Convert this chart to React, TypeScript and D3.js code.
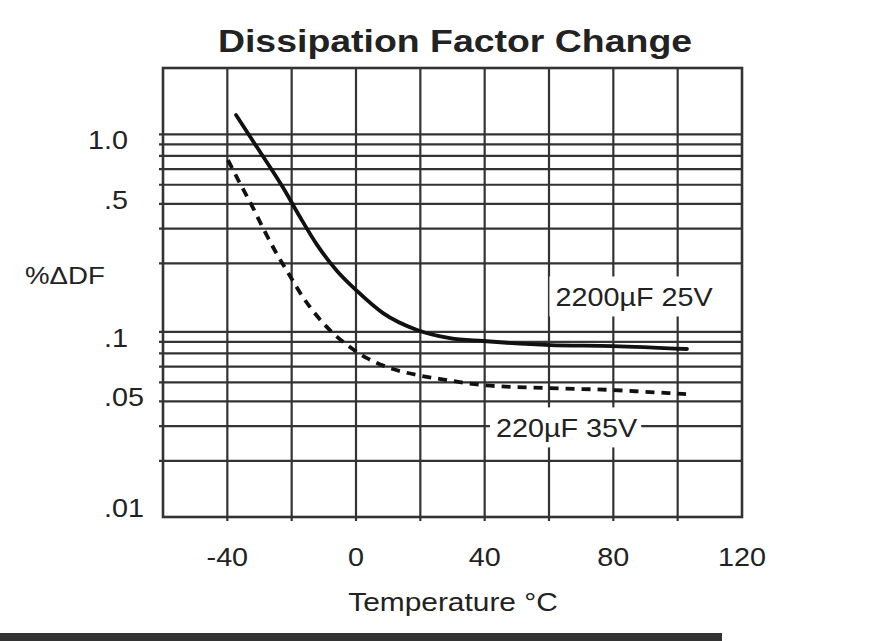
import React, { useLayoutEffect, useRef, useState } from "react";
import * as d3 from "d3";

// ---------- data ----------
const xDomain = [-60, 120];
const yDomain = [0.0104, 1.95];
const xGridValues = [-40, -20, 0, 20, 40, 60, 80, 100];
const xTickValues = [-40, 0, 40, 80, 120];
const yGridValues = [0.9, 0.8, 0.7, 0.6, 0.5, 0.4, 0.3, 0.2, 0.09, 0.08, 0.07, 0.06, 0.05, 0.04, 0.03, 0.02];
const yTickValues = [1.0, 0.5, 0.1, 0.05, 0.01];
const yTickLabels = ["1.0", ".5", ".1", ".05", ".01"];

const tempSolid = [-37.3, -29.8, -22.6, -17.4, -12.1, -5.9, 0.3, 8.4, 19, 29.2, 39.5, 60.3, 79.9, 102.9];
const dfSolid = [1.127, 0.732, 0.481, 0.343, 0.248, 0.183, 0.145, 0.112, 0.092, 0.0837, 0.0809, 0.0772, 0.0763, 0.0737];

const tempDashed = [-39.8, -36.1, -32.3, -28.6, -24.6, -20.5, -16.5, -12.1, -7.5, -1.9, 3.4, 10.6, 19, 28.3, 39.5, 60.3, 79.9, 91.4, 102.6];
const dfDashed = [0.667, 0.51, 0.39, 0.295, 0.223, 0.1725, 0.135, 0.1082, 0.0898, 0.0754, 0.0663, 0.059, 0.0544, 0.0513, 0.0484, 0.0467, 0.0457, 0.0446, 0.0436];

const seriesLabels = ["2200\u00b5F 25V", "220\u00b5F 35V"];
const labelTemps = [62, 43.5];
const labelValues = [0.121, 0.0263];

const title = "Dissipation Factor Change";
const xTitle = "Temperature \u00b0C";
const yTitle = "%\u0394DF";

// ---------- layout ----------
const W = 872;
const H = 641;
const L = 163;
const R = 742;
const T = 68;
const B = 517;
const SX = 1.15;
const FONT = "'Liberation Sans', Arial, sans-serif";
const INK = "#222";
const GRID = "#333";

function SText({ x, y, anchor = "start", size = 25, weight = "normal", sx = SX, children }: any) {
  return (
    <text
      transform={`translate(${x},${y}) scale(${sx},1)`}
      textAnchor={anchor}
      fontFamily={FONT}
      fontSize={size}
      fontWeight={weight}
      fill={INK}
    >
      {children}
    </text>
  );
}

function BoxedLabel({ x, y, text }: any) {
  const ref = useRef<SVGTextElement>(null);
  const [box, setBox] = useState<any>(null);
  useLayoutEffect(() => {
    if (ref.current) {
      const b = ref.current.getBBox();
      setBox({ w: b.width * SX, h: b.height });
    }
  }, [text]);
  return (
    <g>
      {box && <rect x={x - 6} y={y - 30} width={box.w + 10} height={40} fill="#fff" />}
      <text
        ref={ref}
        transform={`translate(${x},${y}) scale(${SX},1)`}
        fontFamily={FONT}
        fontSize={25}
        fill={INK}
      >
        {text}
      </text>
    </g>
  );
}

export default function App() {
  const x = d3.scaleLinear().domain(xDomain).range([L, R]);
  const y = d3.scaleLog().domain(yDomain).range([B, T]);

  const line = d3
    .line<[number, number]>()
    .x((d) => x(d[0]))
    .y((d) => y(d[1]))
    .curve(d3.curveMonotoneX);

  const solid = tempSolid.map((t, i) => [t, dfSolid[i]] as [number, number]);
  const dashed = tempDashed.map((t, i) => [t, dfDashed[i]] as [number, number]);

  return (
    <svg
      width={W}
      height={H}
      style={{ position: "absolute", left: 0, top: 0, background: "#fff" }}
    >
      <rect x={0} y={0} width={W} height={H} fill="#fff" />
      <SText x={455} y={52} anchor="middle" size={32} weight="bold" sx={1.17}>
        {title}
      </SText>

      {/* grid */}
      {yGridValues.map((v) => (
        <line key={"h" + v} x1={L - 4} x2={R} y1={y(v)} y2={y(v)} stroke={GRID} strokeWidth={2.2} />
      ))}
      {xGridValues.map((v) => (
        <line key={"v" + v} x1={x(v)} x2={x(v)} y1={T} y2={B + 4} stroke={GRID} strokeWidth={2.2} />
      ))}

      {/* curve labels with white boxes */}
      {seriesLabels.map((s, i) => (
        <BoxedLabel key={s} x={x(labelTemps[i])} y={y(labelValues[i])} text={s} />
      ))}

      {/* frame */}
      <rect x={L} y={T} width={R - L} height={B - T} fill="none" stroke={GRID} strokeWidth={2.6} />

      {/* curves */}
      <path d={line(solid) || ""} fill="none" stroke="#111" strokeWidth={3.8} strokeLinecap="round" />
      <path d={line(dashed) || ""} fill="none" stroke="#111" strokeWidth={3.8} strokeDasharray="9,7" />

      {/* y tick labels, aligned on the decimal point */}
      {yTickValues.map((v, i) => {
        const lab = yTickLabels[i];
        const k = lab.indexOf(".");
        const cy = Math.min(y(v) + 15, B - 9);
        return (
          <g key={lab} transform={`translate(104,${cy + 9}) scale(${SX},1)`} fontFamily={FONT} fontSize={25} fill={INK}>
            <text x={0} textAnchor="end">{lab.slice(0, k)}</text>
            <text x={0} textAnchor="start">{lab.slice(k)}</text>
          </g>
        );
      })}
      <SText x={25} y={284} size={24}>{yTitle}</SText>

      {/* x tick labels */}
      {xTickValues.map((v) => (
        <SText key={v} x={x(v)} y={566} anchor="middle" size={25}>
          {String(v)}
        </SText>
      ))}
      <SText x={453} y={611} anchor="middle" size={26}>{xTitle}</SText>

      {/* bottom rule */}
      <rect x={0} y={633} width={722} height={8} fill="#333" />
    </svg>
  );
}
